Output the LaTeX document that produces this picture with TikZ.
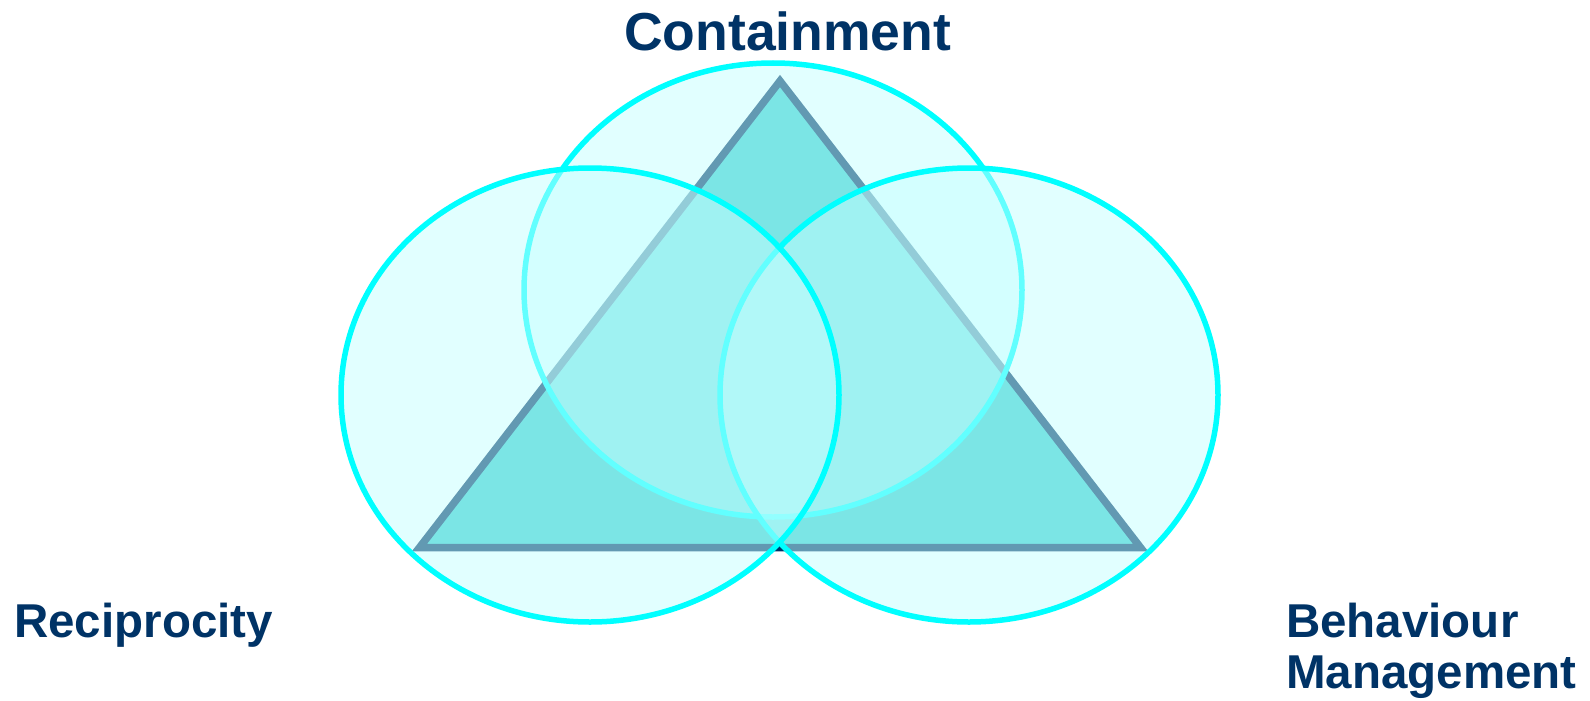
\documentclass[tikz,border=0pt]{standalone}
\usepackage{fontspec}
\setmainfont{Liberation Sans}
\definecolor{navy}{HTML}{003366}
\definecolor{trifill}{HTML}{33CCCC}
\definecolor{ellfill}{HTML}{C4FFFF}
\definecolor{ellline}{HTML}{00FFFF}
\begin{document}
\begin{tikzpicture}[x=1pt,y=-1pt,
  ring/.style={fill=ellfill, fill opacity=0.5, draw=ellline, draw opacity=1, line width=5.5pt},
  tri/.style={fill=trifill, draw=navy, line width=7.5pt, line join=miter},
  label/.style={text=navy, font=\bfseries, inner sep=0pt, anchor=base west, align=left}]
\useasboundingbox (0,0) rectangle (1590,701);
% triangle
\coordinate (apex) at (780,81);
\coordinate (bl) at (419.5,547.5);
\coordinate (br) at (1140.5,547.5);
\draw[tri] (apex) -- (bl) -- (br) -- cycle;
% ellipses: top, right, left
\draw[ring] (773,290) ellipse [x radius=249, y radius=227];
\draw[ring] (969,395) ellipse [x radius=249, y radius=227];
\draw[ring] (590,395) ellipse [x radius=249, y radius=227];
% labels
\node[label, font=\fontsize{53.5}{60}\selectfont\bfseries] (cont) at (624,51) {Containment};
\node[label, font=\fontsize{47.5}{51}\selectfont\bfseries] (reci) at (14,637) {Reciprocity};
\node[label, font=\fontsize{47.5}{51}\selectfont\bfseries] (beha) at (1286,637) {Behaviour};
\node[label, font=\fontsize{47.5}{51}\selectfont\bfseries] (mana) at (1286,688) {Management};
\end{tikzpicture}
\end{document}
